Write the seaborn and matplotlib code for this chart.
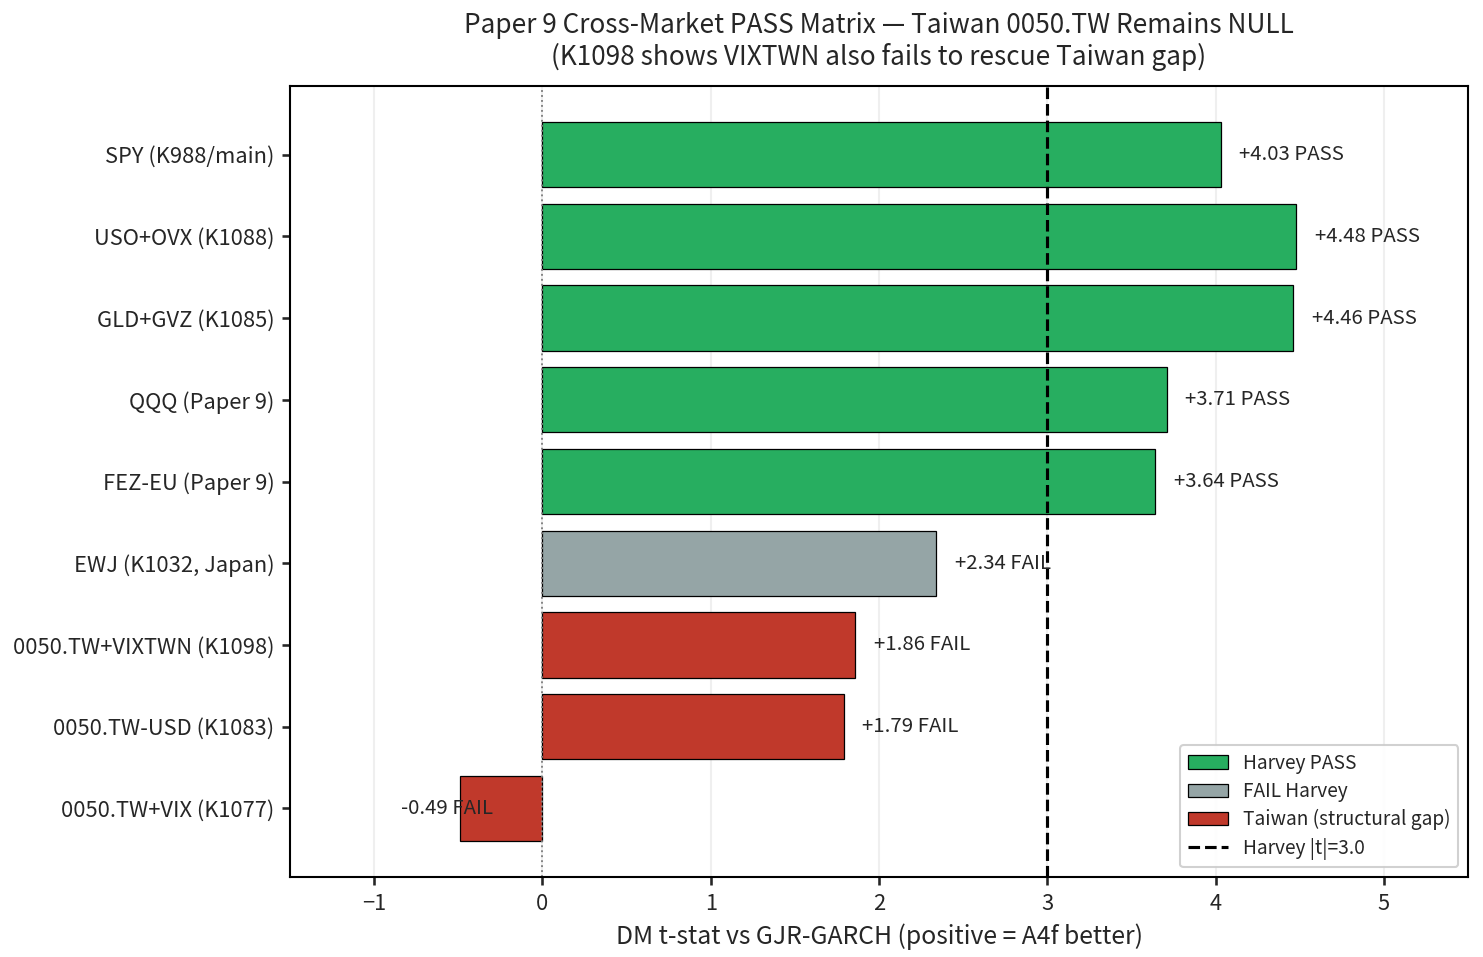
import matplotlib
matplotlib.use('Agg')
import matplotlib.pyplot as plt
import seaborn as sns
import pandas as pd
from matplotlib.lines import Line2D

# --- data ---
markets = [
    "SPY (K988/main)",
    "USO+OVX (K1088)",
    "GLD+GVZ (K1085)",
    "QQQ (Paper 9)",
    "FEZ-EU (Paper 9)",
    "EWJ (K1032, Japan)",
    "0050.TW+VIXTWN (K1098)",
    "0050.TW-USD (K1083)",
    "0050.TW+VIX (K1077)",
]
dm_tstat = [4.03, 4.48, 4.46, 3.71, 3.64, 2.34, 1.86, 1.79, -0.49]
groups = ["Harvey PASS"] * 5 + ["FAIL Harvey"] + ["Taiwan (structural gap)"] * 3
group_order = ["Harvey PASS", "FAIL Harvey", "Taiwan (structural gap)"]
group_colors = {"Harvey PASS": "#27ae60", "FAIL Harvey": "#95a5a6",
                "Taiwan (structural gap)": "#c0392b"}
harvey_t = 3.0

sns.set_theme(style="white")
plt.rcParams['font.family'] = ['Noto Sans CJK SC', 'DejaVu Sans']
plt.rcParams['axes.unicode_minus'] = True

df = pd.DataFrame({"market": markets, "t": dm_tstat, "group": groups})

fig, ax = plt.subplots(figsize=(1483 / 150, 957 / 150), dpi=150)
fig.subplots_adjust(left=0.1956, right=0.9899, top=0.9101, bottom=0.0836)

sns.barplot(data=df, x="t", y="market", hue="group", hue_order=group_order,
            palette=group_colors, dodge=False, orient="h", width=0.8,
            saturation=1, edgecolor="black", linewidth=0.6, ax=ax)

ax.axvline(0, color="gray", linestyle=":", linewidth=0.9)
ax.axvline(harvey_t, color="black", linestyle="--", linewidth=1.5)

for i, v in enumerate(dm_tstat):
    status = "PASS" if abs(v) >= harvey_t else "FAIL"
    x = v + 0.11 if v > 0 else v - 0.35
    ax.text(x, i, f"{v:+.2f} {status}", ha="left", va="center", fontsize=9.8)

ax.set_xlim(-1.5, 5.5)
ax.set_ylim(len(markets) - 0.16, -0.84)
ax.set_xlabel("DM t-stat vs GJR-GARCH (positive = A4f better)", fontsize=11.9)
ax.set_ylabel("")
ax.tick_params(axis="both", labelsize=10.5, length=4, left=True, bottom=True)
ax.grid(True, axis="x", alpha=0.3)
ax.set_axisbelow(True)
for s in ax.spines.values():
    s.set_color("black")
    s.set_linewidth(1.0)

ax.set_title("Paper 9 Cross-Market PASS Matrix \u2014 Taiwan 0050.TW Remains NULL\n"
             "(K1098 shows VIXTWN also fails to rescue Taiwan gap)",
             fontsize=12.6, pad=10)

handles, labels = ax.get_legend_handles_labels()
handles.append(Line2D([0], [0], color="black", linestyle="--", linewidth=1.5))
labels.append("Harvey |t|=3.0")
ax.legend(handles, labels, loc="lower right", fontsize=9.2, framealpha=0.9,
          labelspacing=0.38, handlelength=2.1)

fig.savefig("out.png", dpi=150)
plt.close(fig)
